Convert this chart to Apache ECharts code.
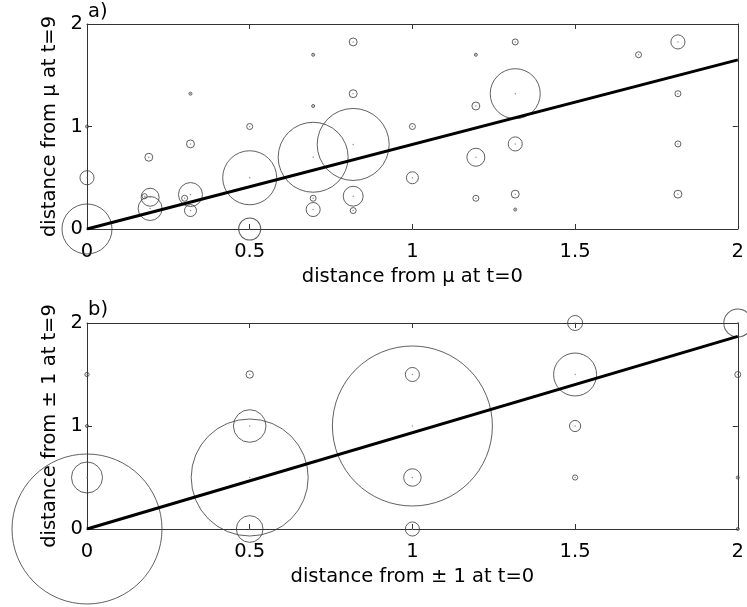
<!DOCTYPE html>
<html>
<head>
<meta charset="utf-8">
<script src="https://cdn.jsdelivr.net/npm/echarts@6/dist/echarts.min.js"></script>
<style>
html,body{margin:0;padding:0;background:#fff;}
#c{width:747px;height:607px;}
</style>
</head>
<body>
<div id="c"></div>
<script>
// ---- data ----
const xTicks = [0, 0.5, 1, 1.5, 2];
const yTicks = [0, 1, 2];
const panelLabels = ['a)', 'b)'];
const xNames = ['distance from \u03bc at t=0', 'distance from \u00b1 1 at t=0'];
const yNames = ['distance from \u03bc at t=9', 'distance from \u00b1 1 at t=9'];

// [x, y, weight]
const topPoints = [
  [0, 0, 278], [0, 0.5, 22], [0, 1.0, 1],
  [0.19, 0.70, 7], [0.194, 0.31, 36], [0.194, 0.20, 64], [0.177, 0.32, 3],
  [0.318, 1.32, 1], [0.318, 0.83, 7], [0.318, 0.336, 64], [0.30, 0.30, 4], [0.318, 0.18, 16],
  [0.5, 1.0, 4], [0.5, 0.5, 324], [0.5, 0, 54],
  [0.695, 1.70, 1], [0.695, 1.20, 1], [0.695, 0.70, 544], [0.695, 0.30, 4], [0.695, 0.19, 22],
  [0.818, 1.825, 7], [0.818, 1.32, 7], [0.818, 0.825, 576], [0.818, 0.32, 44], [0.818, 0.18, 4],
  [1.0, 1.0, 4], [1.0, 0.5, 16],
  [1.195, 1.70, 1], [1.195, 1.20, 7], [1.195, 0.70, 36], [1.195, 0.30, 4],
  [1.316, 1.825, 4], [1.316, 1.32, 278], [1.316, 0.83, 22], [1.316, 0.34, 7], [1.316, 0.19, 1],
  [1.695, 1.70, 4],
  [1.816, 1.825, 22], [1.816, 1.32, 4], [1.816, 0.83, 4], [1.816, 0.34, 7]
];
const bottomPoints = [
  [0, 0, 2500], [0, 0.5, 107], [0, 1, 1], [0, 1.5, 2],
  [0.5, 0, 79], [0.5, 0.5, 1521], [0.5, 1, 118], [0.5, 1.5, 6],
  [1, 0, 22], [1, 0.5, 34], [1, 1, 2844], [1, 1.5, 22],
  [1.5, 0.5, 3], [1.5, 1, 14], [1.5, 1.5, 205], [1.5, 2, 25],
  [2, 0, 1], [2, 0.5, 1], [2, 1.5, 4], [2, 2, 87]
];
const topFit = [[0, 0], [2, 1.65]];
const bottomFit = [[0, 0], [2, 1.87]];

// ---- chart ----
const FONT = 'DejaVu Sans';
const FS = 19.5;
const axisColor = '#333';
const grids = [
  {left: 87, top: 24, width: 652, height: 205},
  {left: 87, top: 323, width: 652, height: 206}
];
const xAxes = [], yAxes = [];
grids.forEach((g, i) => {
  const common = {type: 'value', gridIndex: i, splitLine: {show: false},
    axisLine: {show: true, onZero: false, lineStyle: {color: axisColor, width: 1}},
    axisTick: {show: true, inside: true, length: 5, lineStyle: {color: axisColor}}};
  xAxes.push(Object.assign({}, common, {
    position: 'bottom', min: xTicks[0], max: xTicks[xTicks.length - 1], interval: xTicks[1] - xTicks[0],
    axisLabel: {color: '#000', fontFamily: FONT, fontSize: FS, margin: 13},
    name: xNames[i], nameLocation: 'middle', nameGap: 38,
    nameTextStyle: {color: '#000', fontFamily: FONT, fontSize: FS}
  }));
  xAxes.push(Object.assign({}, common, {
    position: 'top', min: xTicks[0], max: xTicks[xTicks.length - 1], interval: xTicks[1] - xTicks[0],
    axisLabel: {show: false}
  }));
  yAxes.push(Object.assign({}, common, {
    position: 'left', min: yTicks[0], max: yTicks[yTicks.length - 1], interval: yTicks[1] - yTicks[0],
    axisLabel: {color: '#000', fontFamily: FONT, fontSize: FS, margin: 4},
    name: yNames[i], nameLocation: 'middle', nameGap: 24,
    nameTextStyle: {color: '#000', fontFamily: FONT, fontSize: FS}
  }));
  yAxes.push(Object.assign({}, common, {
    position: 'right', min: yTicks[0], max: yTicks[yTicks.length - 1], interval: yTicks[1] - yTicks[0],
    axisLabel: {show: false}
  }));
});

const sizeFn = v => 3 * Math.sqrt(v[2]);
function bubbleSeries(data, i) {
  return [
    {type: 'scatter', xAxisIndex: 2 * i, yAxisIndex: 2 * i, data: data, clip: false,
      symbol: 'circle', symbolSize: sizeFn, silent: true,
      itemStyle: {color: 'rgba(0,0,0,0)', borderColor: '#3a3a3a', borderWidth: 1}, z: 2},
    {type: 'scatter', xAxisIndex: 2 * i, yAxisIndex: 2 * i, data: data, clip: false,
      symbol: 'circle', symbolSize: 1.5, silent: true,
      itemStyle: {color: '#777'}, z: 2}
  ];
}
function fitSeries(data, i) {
  return {type: 'line', xAxisIndex: 2 * i, yAxisIndex: 2 * i, data: data, showSymbol: false,
    silent: true, lineStyle: {color: '#000', width: 3}, z: 3};
}

const option = {
  animation: false,
  backgroundColor: '#fff',
  grid: grids,
  xAxis: xAxes,
  yAxis: yAxes,
  graphic: [
    {type: 'text', left: 88, top: 2, style: {text: panelLabels[0], font: FS + 'px "' + FONT + '"', fill: '#000'}},
    {type: 'text', left: 88, top: 300, style: {text: panelLabels[1], font: FS + 'px "' + FONT + '"', fill: '#000'}}
  ],
  series: [].concat(
    bubbleSeries(topPoints, 0), [fitSeries(topFit, 0)],
    bubbleSeries(bottomPoints, 1), [fitSeries(bottomFit, 1)]
  )
};
const chart = echarts.init(document.getElementById('c'), null, {renderer: 'canvas'});
chart.setOption(option);
</script>
</body>
</html>
